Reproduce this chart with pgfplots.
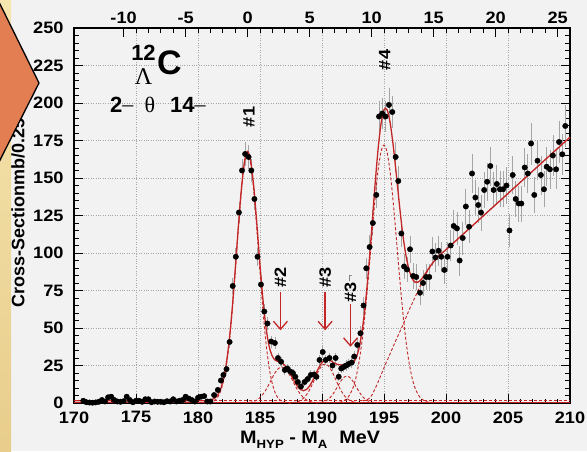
\documentclass[border=0pt]{standalone}
\usepackage{fontspec}
\setmainfont{Liberation Sans}
\newfontfamily\tk[FakeStretch=1.1]{Liberation Sans}
\newfontfamily\serif{Liberation Serif}
\usepackage{pgfplots}
\pgfplotsset{compat=1.18}
\usepackage{pgfplotstable}
\usetikzlibrary{arrows.meta}
\definecolor{bg}{RGB}{242,242,242}
\definecolor{fitred}{RGB}{195,38,38}
\definecolor{orng}{RGB}{226,126,82}
\definecolor{errgray}{RGB}{165,165,165}
\definecolor{cream1}{RGB}{246,230,175}
\definecolor{cream2}{RGB}{232,205,140}

\pgfplotstableread{
E y err
170.75 1.5 1.2
171.0 0.5 1.0
171.25 0.3 1.0
171.5 0.2 1.0
171.75 0.4 1.0
172.0 0.8 1.0
172.25 2.0 1.2
172.5 1.0 1.0
172.75 3.8 1.5
173.0 4.2 1.5
173.25 2.0 1.2
173.5 1.0 1.0
173.75 0.8 1.0
174.0 1.2 1.0
174.25 4.2 1.5
174.5 2.0 1.2
174.75 0.5 1.0
175.0 1.5 1.2
175.25 1.5 1.2
175.5 0.8 1.0
175.75 2.5 1.2
176.0 2.5 1.2
176.25 0.5 1.0
176.5 1.0 1.0
176.75 0.8 1.0
177.0 0.8 1.0
177.25 0.5 1.0
177.5 1.2 1.0
177.75 1.0 1.0
178.0 2.5 1.2
178.25 1.0 1.0
178.5 1.5 1.2
178.75 2.0 1.2
179.0 4.2 1.5
179.25 3.0 1.2
179.5 2.0 1.2
179.75 1.0 1.0
180.0 3.5 1.5
180.25 4.2 1.5
180.5 4.6 1.5
180.75 1.0 1.0
181.0 1.0 1.0
181.3 5.3 1.6
181.6 8.7 2.0
181.85 15 2.5
182.05 18.7 2.8
182.3 22.6 3.0
182.55 40.7 4.0
182.8 78 5.5
183.05 97.5 6.0
183.3 127 7.0
183.55 155 7.5
183.8 166 8.0
184.08 164 8.0
184.3 155 7.5
184.55 136 7.0
184.8 97.5 6.0
185.08 79 5.5
185.35 61 5.0
185.6 53 4.5
185.9 41 4.0
186.2 40 4.0
186.45 30 3.5
186.7 27.5 3.5
187.0 22 3.0
187.2 23 3.0
187.45 21 3.0
187.65 20 3.0
187.85 17.5 3.0
188.05 14 2.5
188.3 11 2.5
188.6 14 2.5
188.85 16 2.5
189.1 18.7 3.0
189.35 19 3.0
189.55 17.5 3.0
189.8 28.7 3.5
190.06 34 4.0
190.3 28.7 3.5
190.6 30 3.5
190.85 25 3.5
191.1 30 3.5
191.35 17.5 3.0
191.55 23 3.0
191.75 24 3.0
191.95 25 3.5
192.15 26 3.5
192.4 27 3.5
192.6 31 4.0
192.85 38.7 4.5
193.1 46.5 5.0
193.35 65 6.0
193.57 89.8 7.0
193.84 104 8.0
194.1 120 8.5
194.38 138.7 9.0
194.6 191 10.5
194.86 193 10.5
195.12 191 10.5
195.4 198.7 11
195.67 194 10.5
195.94 164 10
196.15 148 10
196.4 113 9
196.62 91 8.5
196.85 89 8.5
197.1 102.5 9
197.35 84.7 8.5
197.6 84 8.5
197.9 73.5 8
198.15 80 8.5
198.4 84 8.5
198.65 84 8.5
198.9 101 9.5
199.15 97 9.5
199.4 101.5 10
199.62 97.5 10
199.87 88.7 9.5
200.12 97.5 10
200.38 105 10.5
200.62 118 11
200.88 116.4 11
201.1 95 10
201.35 110 11
201.6 131 12
201.86 117.5 11
202.1 153 13
202.37 137 12
202.6 132 12
202.82 127 12
203.08 142 12
203.32 147.5 12.5
203.58 158 13
203.84 142 12
204.1 146 12.5
204.35 142.5 12
204.6 142.5 12
204.88 145 12.5
205.12 115 11
205.38 152 12.5
205.62 136 12
205.86 133 12
206.08 133 12
206.35 157 13
206.6 153 13
206.86 173 14
207.12 138.7 12
207.38 161.5 13
207.65 152 13
207.9 142.5 12
208.12 157.5 13
208.38 155.8 13
208.62 165 13.5
208.88 155.8 13
209.12 174 14
209.38 165.8 13.5
209.62 184.7 14
}\datatab

\pgfplotstableread{
E y
170 1.5
180 1.5
180.5 1.56
180.75 1.68
181 2.0
181.25 2.76
181.5 4.4
181.75 7.8
182 14.1
182.25 24.5
182.5 40.3
182.75 62.0
183 88.6
183.25 117.0
183.5 142.8
183.75 161.0
184 167.7
184.25 161.4
184.5 143.9
184.75 119.0
185 92.2
185.25 68.0
185.5 49.4
185.75 37.4
186 31.1
186.25 28.4
186.5 27.5
186.75 26.8
187 25.1
187.25 22.3
187.5 18.7
187.75 14.7
188 11.4
188.25 9.1
188.5 8.2
188.75 9.0
189 11.4
189.25 15.0
189.5 19.4
189.75 23.7
190 26.9
190.25 28.7
190.5 28.8
190.75 27.9
191 26.6
191.25 25.7
191.5 25.4
191.75 25.4
192 25.5
192.25 25.7
192.5 26.8
192.75 30.0
193 37.0
193.25 49.0
193.5 66.2
193.75 88.6
194 114.8
194.25 142.5
194.5 167.2
194.75 185.7
195 195.5
195.25 195.5
195.5 186.6
195.75 171.1
196 151.8
196.25 131.7
196.5 113.5
196.75 99.4
197 89.5
197.25 83.3
197.5 80.6
197.75 80.6
198 82.4
198.25 85.2
198.5 88.4
198.75 91.4
199 94.1
199.25 96.5
199.5 98.7
199.75 100.5
200 102.2
201 109.7
202 117.2
203 124.7
204 132.2
205 139.7
206 147.2
207 154.7
208 162.2
209 169.7
210 177.2
}\totaltab

\pgfplotstableread{
E y
193.25 1.5
193.5 1.8
193.75 2.7
194 5.0
194.25 9.0
194.5 13.5
194.75 18.5
195 23.5
195.25 28.3
195.5 33.0
195.75 37.8
196 42.5
196.25 47.0
196.5 51.5
196.75 56.5
197 61.5
197.25 66.0
197.5 70.5
197.75 75.0
198 79.5
198.25 83.8
198.5 87.7
198.75 91.1
199 94.0
199.25 96.5
199.5 98.7
199.75 100.5
200 102.2
201 109.7
202 117.2
203 124.7
204 132.2
205 139.7
206 147.2
207 154.7
208 162.2
209 169.7
210 177.2
}\bkgtab

\pgfplotstableread{
E y
180.5 0.06
180.75 0.18
181 0.5
181.25 1.26
181.5 2.9
181.75 6.3
182 12.6
182.25 23.0
182.5 38.8
182.75 60.5
183 87.1
183.25 115.5
183.5 141.3
183.75 159.4
184 166
184.25 159.4
184.5 141.3
184.75 115.5
185 87.1
185.25 60.5
185.5 38.8
185.75 23.0
186 12.6
186.25 6.3
186.5 2.9
186.75 1.26
187 0.5
187.25 0.18
187.5 0.06
}\gone

\pgfplotstableread{
E y
183.75 0.09
184.0 0.23
184.25 0.51
184.5 1.05
184.75 2.0
185.0 3.6
185.25 6.0
185.5 9.1
185.75 12.9
186.0 17.0
186.25 20.6
186.5 23.1
186.75 24
187.0 23.1
187.25 20.6
187.5 17.0
187.75 12.9
188.0 9.1
188.25 6.0
188.5 3.6
188.75 2.0
189.0 1.05
189.25 0.51
189.5 0.23
189.75 0.09
}\gtwo

\pgfplotstableread{
E y
187.25 0.05
187.5 0.14
187.75 0.34
188.0 0.78
188.25 1.63
188.5 3.1
188.75 5.5
189.0 8.8
189.25 13.0
189.5 17.6
189.75 21.9
190.0 24.9
190.25 26
190.5 24.9
190.75 21.9
191.0 17.6
191.25 13.0
191.5 8.8
191.75 5.5
192.0 3.1
192.25 1.63
192.5 0.78
192.75 0.34
193.0 0.14
193.25 0.05
}\gthree

\pgfplotstableread{
E y
189.5 0.07
189.75 0.2
190.0 0.51
190.25 1.18
190.5 2.4
190.75 4.5
191.0 7.4
191.25 10.9
191.5 14.4
191.75 17.0
192.0 18
192.25 17.0
192.5 14.4
192.75 10.9
193.0 7.4
193.25 4.5
193.5 2.4
193.75 1.18
194.0 0.51
194.25 0.2
194.5 0.07
}\gthreep

\pgfplotstableread{
E y
191.0 0.12
191.25 0.29
191.5 0.66
191.75 1.43
192.0 2.9
192.25 5.6
192.5 10.1
192.75 17.3
193.0 28.0
193.25 42.9
193.5 62.0
193.75 84.7
194.0 109.3
194.25 133.3
194.5 153.6
194.75 167.2
195.0 172
195.25 167.2
195.5 153.6
195.75 133.3
196.0 109.3
196.25 84.7
196.5 62.0
196.75 42.9
197.0 28.0
197.25 17.3
197.5 10.1
197.75 5.6
198.0 2.9
198.25 1.43
198.5 0.66
198.75 0.29
199.0 0.12
}\gfour

\pgfplotstableread{
E y
170 1.5
210 1.5
}\constdash

\pgfplotstableread{
E y
170 0.3
210 0.3
}\constsolid

\newcommand{\tkf}{\tk\bfseries\fontsize{16.5}{16.5}\selectfont}

\begin{document}
\begin{tikzpicture}[x=1pt,y=1pt]
\useasboundingbox (0,0) rectangle (587,451);
\fill[bg] (0,0) rectangle (587,451);
\shade[top color=cream1,bottom color=cream2] (0,0) rectangle (11,451);

\begin{axis}[
  at={(74pt,48pt)}, anchor=south west,
  width=496pt, height=375pt, scale only axis,
  xmin=170, xmax=210, ymin=0, ymax=250,
  xtick={170,175,180,185,190,195,200,205,210},
  xticklabels={170,175,180,185,190,195,200,205,210},
  ytick={0,25,50,75,100,125,150,175,200,225,250},
  yticklabels={0,25,50,75,100,125,150,175,200,225,250},
  minor x tick num=4, minor y tick num=4,
  xtick pos=bottom, ytick pos=both, yticklabel pos=left,
  tick align=inside,
  major tick length=9pt, minor tick length=4.5pt,
  tick style={black, line width=0.8pt},
  axis line style={black, line width=1.6pt},
  grid=major,
  major grid style={gray!70, dotted, line width=0.7pt},
  xticklabel style={font=\tkf, yshift=-5pt},
  yticklabel style={font=\tkf, xshift=-7pt},
  clip=false,
]
% error bars
\addplot[only marks, mark=none, forget plot,
  error bars/.cd, y dir=both, y explicit, error mark=none,
  error bar style={errgray, line width=0.7pt}]
  table[x=E, y=y, y error=err] {\datatab};
% components
\addplot[fitred, line width=0.9pt, dash pattern=on 3pt off 2pt] table[x=E,y=y] {\constdash};
\addplot[fitred, line width=0.9pt] table[x=E,y=y] {\constsolid};
\addplot[fitred, line width=0.9pt, dash pattern=on 3pt off 2pt, smooth] table[x=E,y=y] {\gone};
\addplot[fitred, line width=0.9pt, dash pattern=on 3pt off 2pt, smooth] table[x=E,y=y] {\gtwo};
\addplot[fitred, line width=0.9pt, dash pattern=on 3pt off 2pt, smooth] table[x=E,y=y] {\gthree};
\addplot[fitred, line width=0.9pt, dash pattern=on 3pt off 2pt, smooth] table[x=E,y=y] {\gthreep};
\addplot[fitred, line width=0.9pt, dash pattern=on 3pt off 2pt, smooth] table[x=E,y=y] {\gfour};
\addplot[fitred, line width=0.9pt, dash pattern=on 3pt off 2pt, smooth] table[x=E,y=y] {\bkgtab};
% total fit
\addplot[fitred, line width=1.3pt, smooth] table[x=E,y=y] {\totaltab};
% data points
\addplot[only marks, mark=*, mark size=2.7pt, black] table[x=E,y=y] {\datatab};

% annotations
\node[rotate=90, font=\tkf] at (axis cs:184.1,190.7) {\#1};
\node[rotate=90, font=\tkf] at (axis cs:195.05,228.7) {\#4};
\node[rotate=90, font=\tkf] at (axis cs:186.65,83.7) {\#2};
\node[rotate=90, font=\tkf] at (axis cs:190.25,83.7) {\#3};
\node[rotate=90, font=\tkf] at (axis cs:192.3,76) {\#3\raisebox{3pt}{\fontsize{11}{11}\selectfont$\neg$}};
\draw[fitred, line width=1.3pt, -{Straight Barb[length=8pt,width=14pt,line width=1.3pt]}] (axis cs:186.65,74) -- (axis cs:186.65,48.5);
\draw[fitred, line width=1.3pt, -{Straight Barb[length=8pt,width=14pt,line width=1.3pt]}] (axis cs:190.25,74) -- (axis cs:190.25,48.5);
\draw[fitred, line width=1.3pt, -{Straight Barb[length=8pt,width=14pt,line width=1.3pt]}] (axis cs:192.3,66) -- (axis cs:192.3,37.5);
\end{axis}

\begin{axis}[
  at={(74pt,48pt)}, anchor=south west,
  width=496pt, height=375pt, scale only axis,
  xmin=-14, xmax=26, ymin=0, ymax=250,
  axis x line*=top, axis y line=none,
  xtick={-10,-5,0,5,10,15,20,25},
  xticklabels={-10,-5,0,5,10,15,20,25},
  minor x tick num=4,
  tick align=inside,
  major tick length=9pt, minor tick length=4.5pt,
  tick style={black, line width=0.8pt},
  axis line style={black, line width=1.6pt},
  xticklabel style={font=\tkf, yshift=1pt},
]
\addplot[draw=none] coordinates {(0,0)};
\end{axis}

\node[rotate=90, anchor=west, inner sep=0pt, font=\bfseries\fontsize{18}{18}\selectfont] at (18,143) {Cross-Sectionmb/0.25};

\fill[orng, draw=black, line width=1.3pt] (-3,453) -- (39,368) -- (-3,285) -- cycle;

\node[anchor=base west, inner sep=0pt, font=\tk\bfseries\fontsize{18}{18}\selectfont] at (240,8)
  {M\raisebox{-5pt}{\fontsize{12}{12}\selectfont HYP} - M\raisebox{-5pt}{\fontsize{12}{12}\selectfont A}\hspace{12pt}MeV};

\node[inner sep=0pt, font=\bfseries\fontsize{22}{22}\selectfont] at (143.5,398.5) {12};
\node[inner sep=0pt, font=\bfseries\fontsize{34}{34}\selectfont] at (169.5,388.5) {C};
\node[inner sep=0pt, font=\serif\fontsize{24}{24}\selectfont] at (143.5,374.5) {Λ};
\node[anchor=base west, inner sep=0pt, font=\bfseries\fontsize{22}{22}\selectfont] at (110,338) {2\raisebox{2pt}{\serif\mdseries –}};
\node[anchor=base, inner sep=0pt, font=\serif\fontsize{22}{22}\selectfont] at (150,338) {θ};
\node[anchor=base west, inner sep=0pt, font=\bfseries\fontsize{22}{22}\selectfont] at (170,338) {14\raisebox{2pt}{\serif\mdseries –}};
\end{tikzpicture}
\end{document}
